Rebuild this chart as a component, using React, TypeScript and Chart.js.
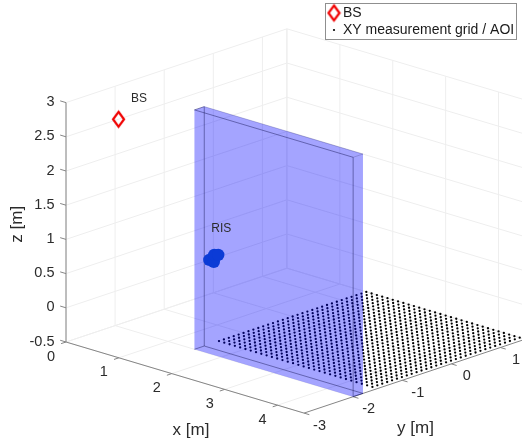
import React, { useEffect, useRef } from "react";
import { Chart, registerables } from "chart.js";

Chart.register(...registerables);

// ---- tick values ----
const xTicks = [0, 1, 2, 3, 4];
const yTicks = [-3, -2, -1, 0, 1];
const zTicks = [-0.5, 0, 0.5, 1, 1.5, 2, 2.5, 3];
const xLimits = [0, 4.5];
const yLimits = [-3, 1.5];
const zLimits = [-0.5, 3];

// ---- measurement grid (AOI) ----
const gridX = [1.5, 1.6, 1.7, 1.8, 1.9, 2.0, 2.1, 2.2, 2.3, 2.4, 2.5, 2.6, 2.7, 2.8, 2.9, 3.0, 3.1, 3.2, 3.3, 3.4, 3.5, 3.6, 3.7, 3.8, 3.9, 4.0, 4.1, 4.2, 4.3, 4.4];
const gridY = [-1.5, -1.4, -1.3, -1.2, -1.1, -1.0, -0.9, -0.8, -0.7, -0.6, -0.5, -0.4, -0.3, -0.2, -0.1, 0, 0.1, 0.2, 0.3, 0.4, 0.5, 0.6, 0.7, 0.8, 0.9, 1.0, 1.1, 1.2, 1.3, 1.4, 1.5];
const gridZ = -0.5;

// ---- objects ----
const bsPoint = [0, -1.93, 2.5];
const risX = [0, 0, 0, 0];
const risY = [-0.08, 0.01, 0.02, 0.1];
const risZ = [0, -0.05, 0.05, 0.03];
const wallX = [1.5, 4.5];
const wallY = [-2, -1.8];
const wallZ = [-0.5, 3];

// ---- view of the 3D box onto the plane ----
const project = (x: number, y: number, z: number) => ({
  x: 66 + 52.9 * x + 49.1 * (y + 3),
  y: 342 + 15.8 * x - 16.4 * (y + 3) - 68.4 * (z + 0.5),
});
const BREAK = { x: NaN, y: NaN };
type P3 = [number, number, number];
const polyline = (segs: P3[][]) => {
  const out: { x: number; y: number }[] = [];
  segs.forEach((s) => {
    s.forEach((p) => out.push(project(p[0], p[1], p[2])));
    out.push(BREAK);
  });
  return out;
};

const FONT = '"Liberation Sans", Helvetica, Arial, sans-serif';
const TEXT = "#2b2b2b";

function diamond(w: number, h: number, lw: number) {
  const c = document.createElement("canvas");
  c.width = w + 4;
  c.height = h + 6;
  const g = c.getContext("2d")!;
  g.strokeStyle = "#f00000";
  g.lineWidth = lw;
  g.lineJoin = "miter";
  const cx = c.width / 2;
  const cy = c.height / 2;
  g.beginPath();
  g.moveTo(cx, cy - h / 2);
  g.lineTo(cx + w / 2, cy);
  g.lineTo(cx, cy + h / 2);
  g.lineTo(cx - w / 2, cy);
  g.closePath();
  g.stroke();
  return c;
}

function face(pts: P3[]) {
  return {
    type: "scatter" as const,
    label: "wall",
    data: [...pts, pts[0]].map((p) => project(p[0], p[1], p[2])),
    showLine: true,
    pointRadius: 0,
    borderWidth: 0,
    borderColor: "rgba(0,0,0,0)",
    backgroundColor: "rgba(0,0,255,0.2)",
    fill: "shape",
    tension: 0,
  };
}

function line(label: string, segs: P3[][], color: string, width: number) {
  return {
    type: "scatter" as const,
    label,
    data: polyline(segs),
    showLine: true,
    spanGaps: false,
    pointRadius: 0,
    borderColor: color,
    borderWidth: width,
    fill: false,
    tension: 0,
  };
}

export default function App() {
  const ref = useRef<HTMLCanvasElement>(null);
  useEffect(() => {
    const [x0, x1] = xLimits;
    const [y0, y1] = yLimits;
    const [z0, z1] = zLimits;
    const [wx0, wx1] = wallX;
    const [wy0, wy1] = wallY;
    const [wz0, wz1] = wallZ;

    const grid: P3[][] = [];
    xTicks.forEach((x) => {
      grid.push([[x, y0, z0], [x, y1, z0]]);
      grid.push([[x, y1, z0], [x, y1, z1]]);
    });
    yTicks.concat([y1]).forEach((y) => {
      grid.push([[x0, y, z0], [x1, y, z0]]);
      grid.push([[x0, y, z0], [x0, y, z1]]);
    });
    zTicks.forEach((z) => {
      grid.push([[x0, y0, z], [x0, y1, z]]);
      grid.push([[x0, y1, z], [x1, y1, z]]);
    });

    const axes: P3[][] = [
      [[x0, y0, z0], [x1, y0, z0]],
      [[x1, y0, z0], [x1, y1, z0]],
      [[x0, y0, z0], [x0, y0, z1]],
    ];
    xTicks.forEach((x) => axes.push([[x, y0, z0], [x, y0 - 0.1, z0]]));
    yTicks.forEach((y) => axes.push([[x1, y, z0], [x1 + 0.1, y, z0]]));
    zTicks.forEach((z) => axes.push([[x0, y0, z], [x0 - 0.11, y0, z]]));

    const strong: P3[][] = [
      [[wx0, wy0, wz1], [wx1, wy0, wz1]],
      [[wx0, wy1, wz0], [wx0, wy1, wz1]],
      [[wx1, wy0, wz0], [wx1, wy0, wz1]],
      [[wx0, wy1, wz0], [wx1, wy1, wz0]],
      [[wx1, wy0, wz0], [wx1, wy1, wz0]],
      [[wx0, wy0, wz0], [wx0, wy1, wz0]],
      [[wx0, wy0, wz1], [wx0, wy1, wz1]],
    ];
    const faint: P3[][] = [
      [[wx0, wy1, wz1], [wx1, wy1, wz1]],
      [[wx1, wy0, wz1], [wx1, wy1, wz1]],
    ];

    const gridPoints: { x: number; y: number }[] = [];
    gridX.forEach((x) => gridY.forEach((y) => gridPoints.push(project(x, y, gridZ))));

    const bsMarker = diamond(11, 15, 2.2);
    const bsLabelOffset = { x: 12.5, y: -21 };
    const risLabelOffset = { x: -2, y: -29.5 };

    const labelsPlugin = {
      id: "labels3d",
      afterDraw(chart: any) {
        const g = chart.ctx as CanvasRenderingContext2D;
        const sx = chart.scales.x;
        const sy = chart.scales.y;
        const at = (x: number, y: number, z: number) => {
          const p = project(x, y, z);
          return { x: sx.getPixelForValue(p.x), y: sy.getPixelForValue(p.y) };
        };
        g.save();
        g.fillStyle = TEXT;
        g.textBaseline = "middle";

        g.font = `14.5px ${FONT}`;
        g.textAlign = "center";
        xTicks.forEach((x) => {
          const p = at(x, y0, z0);
          g.fillText(String(x), p.x - 15, p.y + 14.5);
        });
        yTicks.forEach((y) => {
          const p = at(x1, y, z0);
          g.fillText(String(y), p.x + 15.5, p.y + 12.5);
        });
        g.textAlign = "right";
        zTicks.forEach((z) => {
          const p = at(x0, y0, z);
          g.fillText(String(z), p.x - 11.5, p.y - 0.5);
        });

        g.font = `17px ${FONT}`;
        g.textAlign = "center";
        const xl = at((x0 + x1) / 2, y0, z0);
        g.fillText("x [m]", xl.x + 6, xl.y + 52.5);
        const yl = at(x1, (y0 + y1) / 2, z0);
        g.fillText("y [m]", yl.x + 1, yl.y + 52);
        const zl = at(x0, y0, (z0 + z1) / 2);
        g.save();
        g.translate(zl.x - 48.5, zl.y + 2);
        g.rotate(-Math.PI / 2);
        g.fillText("z [m]", 0, 0);
        g.restore();

        g.font = `12px ${FONT}`;
        g.textAlign = "left";
        const bs = at(bsPoint[0], bsPoint[1], bsPoint[2]);
        g.fillText("BS", bs.x + bsLabelOffset.x, bs.y + bsLabelOffset.y);
        const ris = at(0, 0, 0);
        g.fillText("RIS", ris.x + risLabelOffset.x, ris.y + risLabelOffset.y);

        // legend box
        const left = 325.5;
        const top = 3.5;
        g.fillStyle = "#fff";
        g.fillRect(left, top, 191, 36);
        g.strokeStyle = "#8f8f8f";
        g.lineWidth = 1;
        g.strokeRect(left, top, 191, 36);
        g.font = `14px ${FONT}`;
        g.fillStyle = "#1a1a1a";
        const ds = chart.data.datasets;
        const bsDs = ds.find((d: any) => d.label === "BS");
        const aoiDs = ds.find((d: any) => d.label === "XY measurement grid / AOI");
        g.fillText(bsDs.label, 343, 13.5);
        g.fillText(aoiDs.label, 343, 30.5);
        g.drawImage(bsMarker, 334 - bsMarker.width / 2, 13 - bsMarker.height / 2);
        g.fillStyle = "#000";
        g.beginPath();
        g.arc(334, 30, 1.1, 0, Math.PI * 2);
        g.fill();
        g.restore();
      },
    };

    const chart = new Chart(ref.current!, {
      type: "scatter",
      data: {
        datasets: [
          {
            label: "RIS",
            data: risX.map((x, i) => project(x, risY[i], risZ[i])),
            pointRadius: 6.2,
            pointBorderWidth: 0,
            pointBackgroundColor: "#0b3bd6",
          },
          {
            label: "BS",
            data: [project(bsPoint[0], bsPoint[1], bsPoint[2])],
            pointStyle: bsMarker,
            pointRadius: 8,
          },
          line("wall edges", strong, "rgba(30,30,100,0.5)", 1),
          line("wall outline", faint, "rgba(30,30,100,0.22)", 1),
          face([[wx0, wy0, wz0], [wx1, wy0, wz0], [wx1, wy0, wz1], [wx0, wy0, wz1]]),
          face([[wx0, wy1, wz0], [wx1, wy1, wz0], [wx1, wy1, wz1], [wx0, wy1, wz1]]),
          face([[wx0, wy0, wz0], [wx0, wy1, wz0], [wx0, wy1, wz1], [wx0, wy0, wz1]]),
          face([[wx1, wy0, wz0], [wx1, wy1, wz0], [wx1, wy1, wz1], [wx1, wy0, wz1]]),
          face([[wx0, wy0, wz1], [wx1, wy0, wz1], [wx1, wy1, wz1], [wx0, wy1, wz1]]),
          face([[wx0, wy0, wz0], [wx1, wy0, wz0], [wx1, wy1, wz0], [wx0, wy1, wz0]]),
          {
            label: "XY measurement grid / AOI",
            data: gridPoints,
            pointRadius: 1.15,
            pointBorderWidth: 0,
            pointBackgroundColor: "#000",
          },
          line("axes", axes, "#858585", 1),
          line("grid", grid, "#eeeeee", 1),
        ] as any,
      },
      options: {
        responsive: false,
        animation: false,
        layout: { padding: 0, autoPadding: false },
        events: [],
        scales: {
          x: { type: "linear", min: 0, max: 522, display: false },
          y: { type: "linear", min: 0, max: 446, reverse: true, display: false },
        },
        plugins: { legend: { display: false }, tooltip: { enabled: false } },
      } as any,
      plugins: [labelsPlugin],
    });
    return () => chart.destroy();
  }, []);
  return (
    <canvas
      ref={ref}
      width={522}
      height={446}
      style={{ position: "fixed", left: 0, top: 0, display: "block", width: 522, height: 446 }}
    />
  );
}
